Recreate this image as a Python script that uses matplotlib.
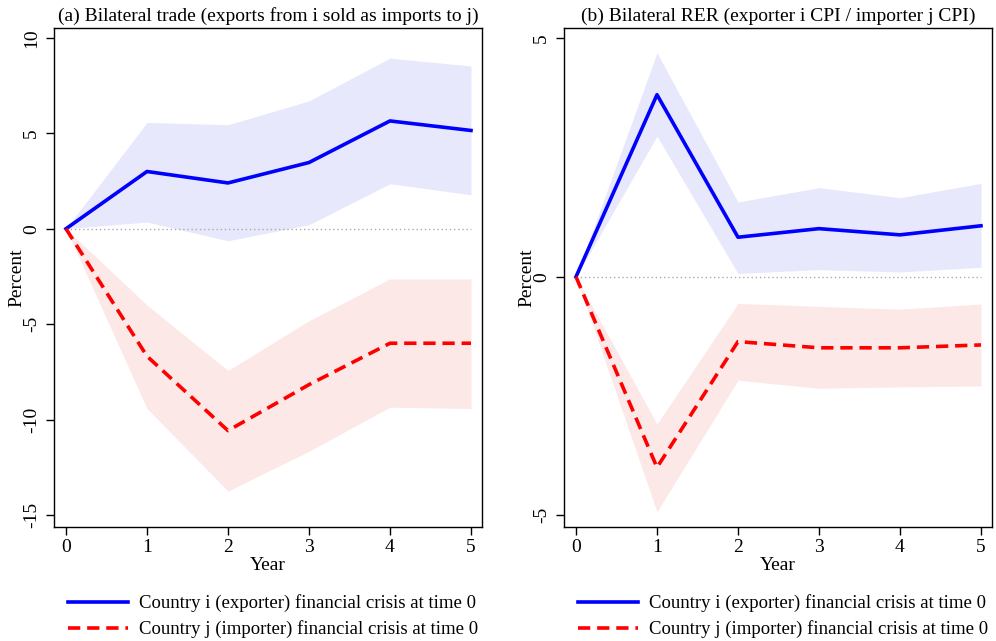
import numpy as np
import matplotlib
matplotlib.use("Agg")
import matplotlib.pyplot as plt

years = [0, 1, 2, 3, 4, 5]

# (a) bilateral trade
trade_i = [0, 3.0, 2.4, 3.47, 5.65, 5.15]
trade_i_hi = [0, 5.57, 5.45, 6.7, 8.94, 8.53]
trade_i_lo = [0, 0.35, -0.63, 0.21, 2.36, 1.78]
trade_j = [0, -6.68, -10.58, -8.17, -6.0, -6.0]
trade_j_hi = [0, -4.0, -7.43, -4.82, -2.63, -2.63]
trade_j_lo = [0, -9.42, -13.75, -11.66, -9.35, -9.42]

# (b) bilateral RER
rer_i = [0, 3.82, 0.83, 1.01, 0.88, 1.07]
rer_i_hi = [0, 4.70, 1.57, 1.87, 1.66, 1.96]
rer_i_lo = [0, 2.95, 0.07, 0.15, 0.10, 0.20]
rer_j = [0, -4.0, -1.36, -1.49, -1.49, -1.43]
rer_j_hi = [0, -3.09, -0.56, -0.62, -0.68, -0.57]
rer_j_lo = [0, -4.93, -2.17, -2.34, -2.31, -2.29]

titles = ["(a) Bilateral trade (exports from i sold as imports to j)",
          "(b) Bilateral RER (exporter i CPI / importer j CPI)"]
lab_i = "Country i (exporter) financial crisis at time 0"
lab_j = "Country j (importer) financial crisis at time 0"

plt.rcParams['font.family'] = ['Liberation Serif', 'DejaVu Serif']
fs = 14

fig = plt.figure(figsize=(9.96, 6.41), dpi=100)
W, H = 996, 641
ax1 = fig.add_axes([54 / W, 1 - 527 / H, (482 - 54) / W, (527 - 28) / H])
ax2 = fig.add_axes([564 / W, 1 - 527 / H, (992 - 564) / W, (527 - 28) / H])

panels = [
    (ax1, trade_i, trade_i_lo, trade_i_hi, trade_j, trade_j_lo, trade_j_hi,
     (-15.63, 10.52), [-15, -10, -5, 0, 5, 10]),
    (ax2, rer_i, rer_i_lo, rer_i_hi, rer_j, rer_j_lo, rer_j_hi,
     (-5.25, 5.22), [-5, 0, 5]),
]

for k, (ax, yi, yi_lo, yi_hi, yj, yj_lo, yj_hi, ylim, yt) in enumerate(panels):
    ax.fill_between(years, yi_lo, yi_hi, color='#e8e8fc', lw=0)
    ax.fill_between(years, yj_lo, yj_hi, color='#fde8e8', lw=0)
    ax.plot([0, 5], [0, 0], color='#aaaaaa', lw=1, ls=(0, (1, 2)))
    ax.plot(years, yi, color='blue', lw=2.6, label=lab_i)
    ax.plot(years, yj, color='red', lw=2.6, ls=(0, (3.4, 1.9)), label=lab_j)
    ax.set_xlim(-0.148, 5.136)
    ax.set_ylim(*ylim)
    ax.set_xticks(years)
    ax.set_yticks(yt)
    ax.set_yticklabels([str(v) for v in yt], rotation=90, va='center')
    ax.tick_params(labelsize=fs, length=6, width=1, pad=3)
    ax.tick_params(axis='y', pad=4)
    ax.set_xlabel("Year", fontsize=fs, labelpad=0)
    ax.set_ylabel("Percent", fontsize=fs)
    ax.yaxis.set_label_coords(-0.068, 0.5)
    ax.set_title(titles[k], fontsize=fs, pad=5)
    for s in ax.spines.values():
        s.set_linewidth(1)
    ax.legend(loc='upper left', bbox_to_anchor=(0.016, -0.12), frameon=False,
              fontsize=13.5, handlelength=3.2, handletextpad=0.55,
              labelspacing=0.42, borderaxespad=0)

fig.savefig("out.png", dpi=100)
